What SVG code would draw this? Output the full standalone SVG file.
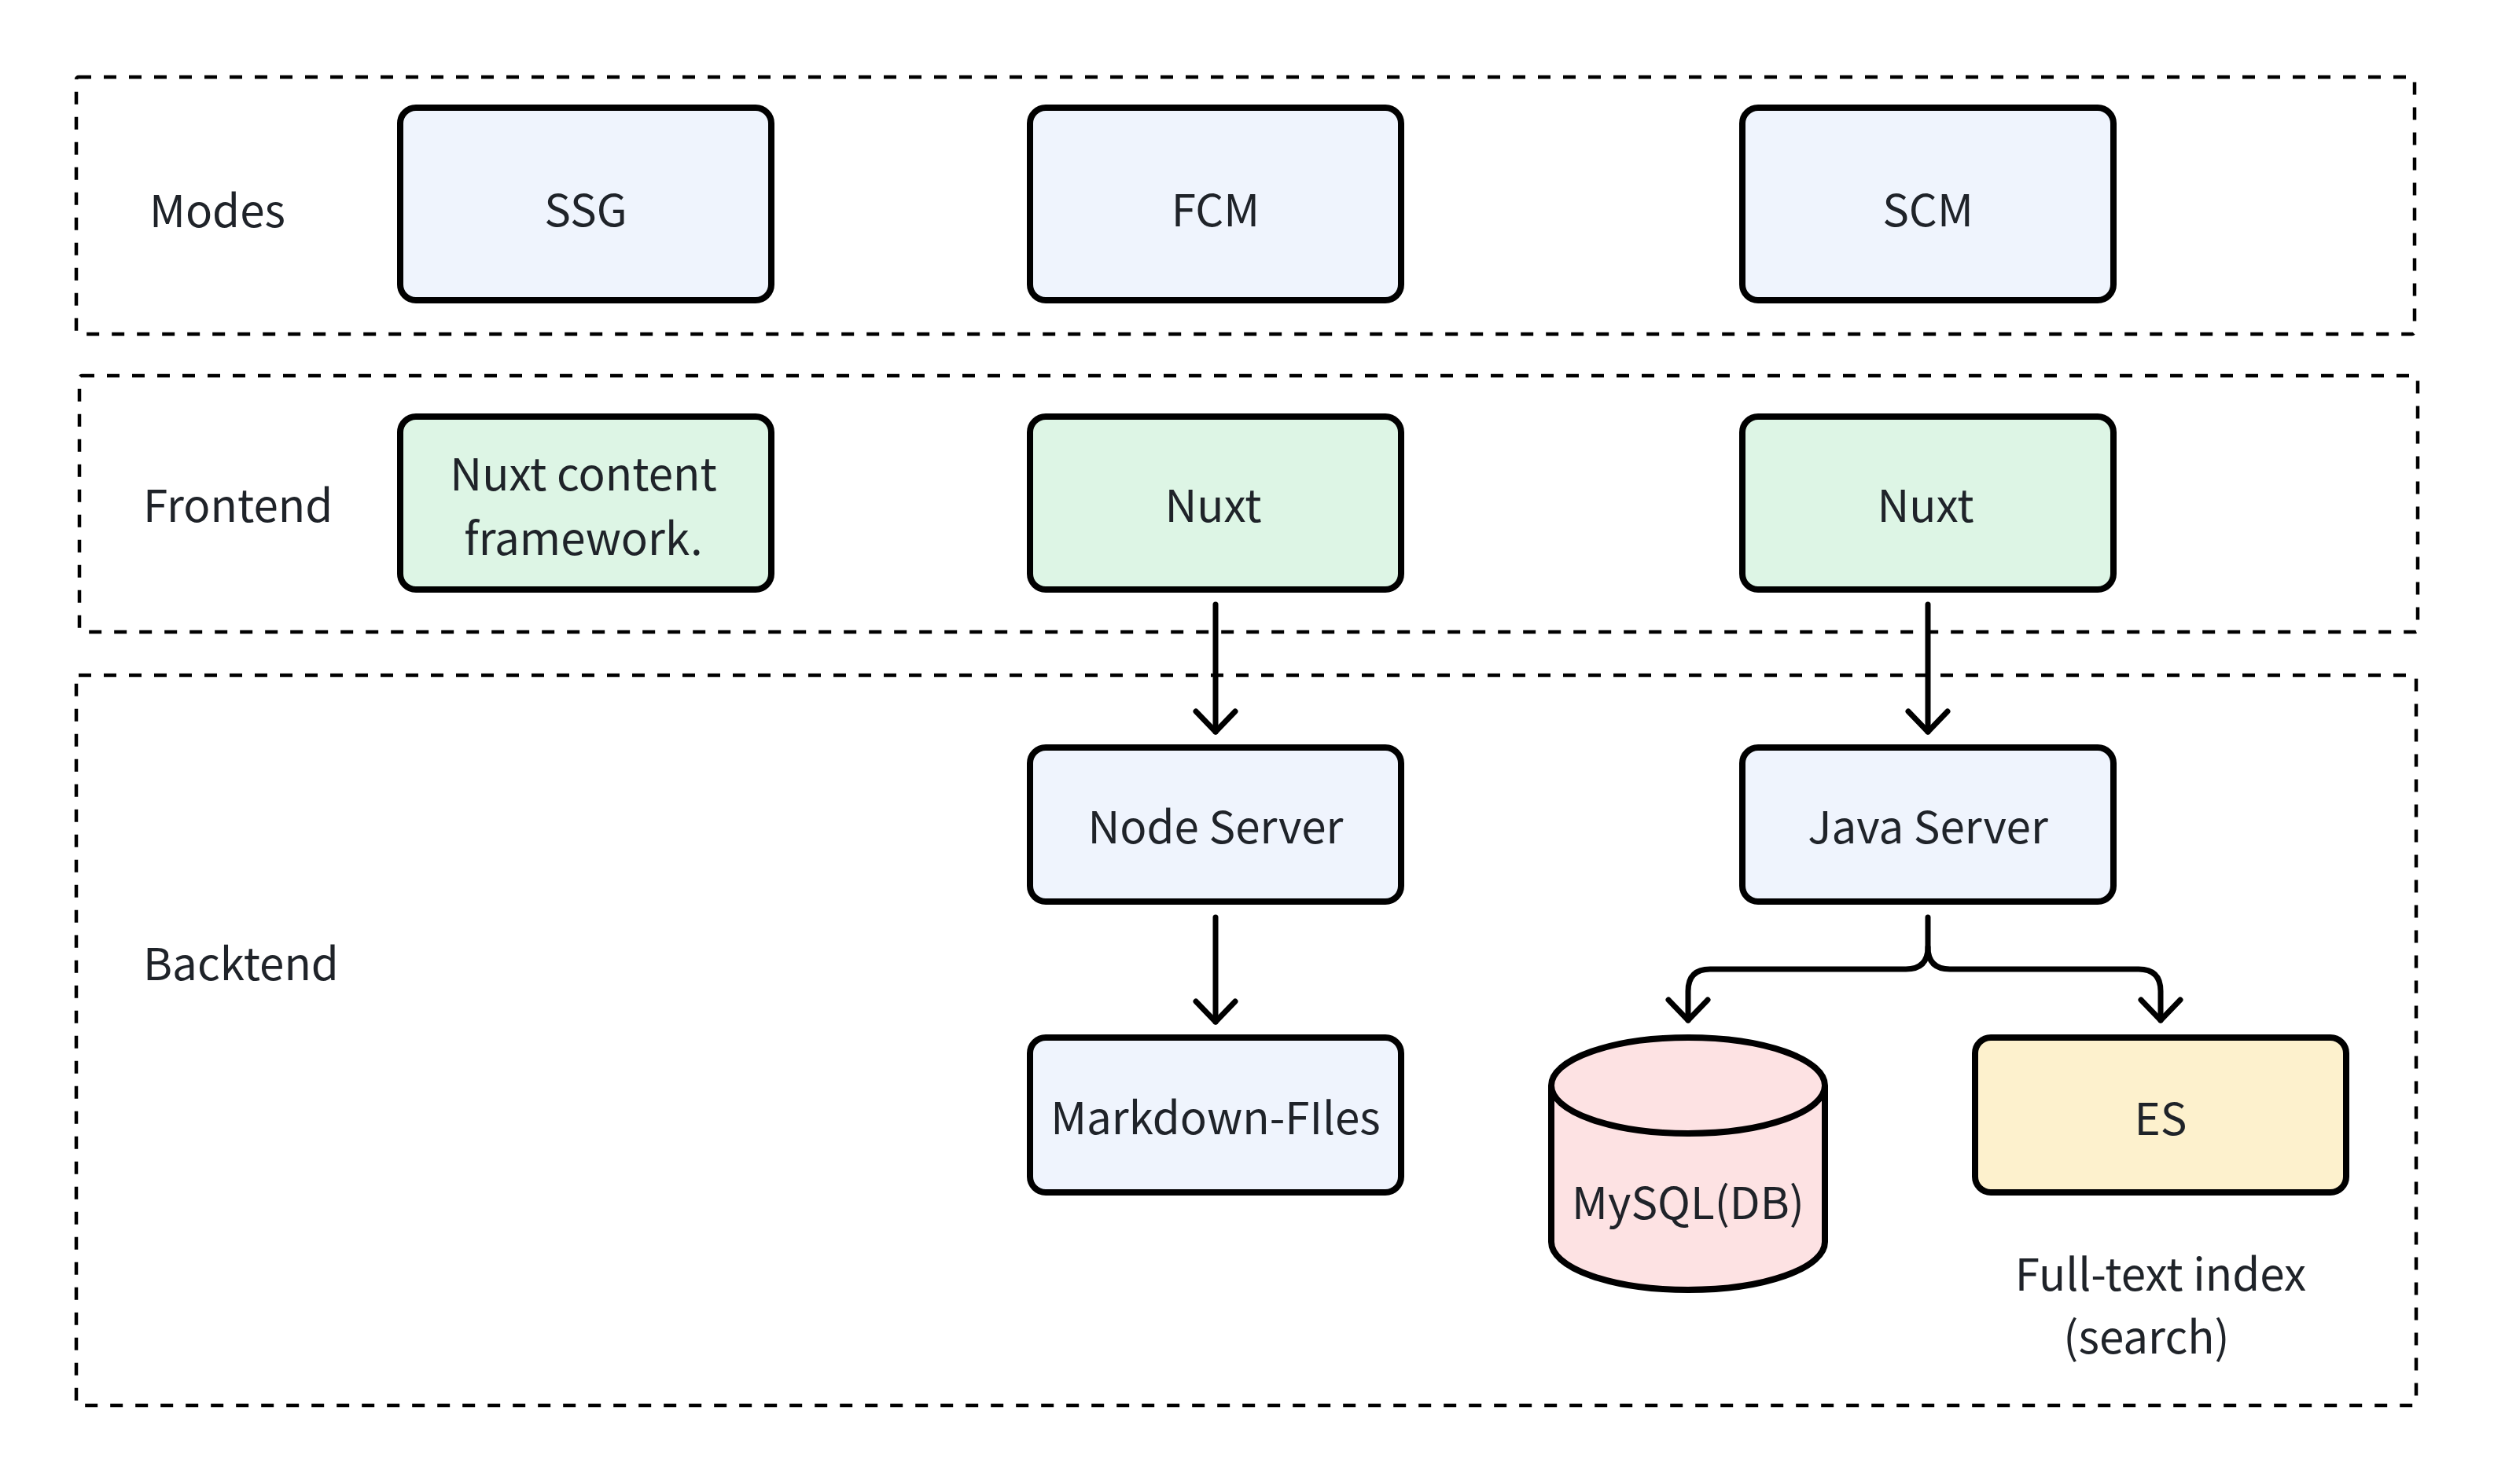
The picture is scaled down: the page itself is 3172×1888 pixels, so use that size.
<svg xmlns="http://www.w3.org/2000/svg" width="3172" height="1888" viewBox="0 0 3172 1888">
<defs>
<style>
.grp{fill:none;stroke:#000;stroke-width:4.5;stroke-dasharray:16 16}
.box{stroke:#000;stroke-width:8}
.blue{fill:#eff4fd}
.green{fill:#ddf5e5}
.yellow{fill:#fdf1cd}
.pink{fill:#fde2e3}
text{font-family:"Noto Sans CJK SC","Noto Sans",sans-serif;font-size:56.5px;fill:#1f2329}
.c{text-anchor:middle}
.edge{fill:none;stroke:#000;stroke-width:7;stroke-linecap:round;stroke-linejoin:round}
</style>
<marker id="arr" markerUnits="userSpaceOnUse" viewBox="-30 -30 60 60" markerWidth="60" markerHeight="60" refX="0" refY="0" orient="auto" overflow="visible">
<path d="M-26,-25 L0,0 L-26,25" fill="none" stroke="#000" stroke-width="7" stroke-linecap="round" stroke-linejoin="round"/>
</marker>
</defs>
<rect width="3172" height="1888" fill="#fff"/>
<g id="groups">
<rect id="grp-modes" class="grp" x="97" y="98" width="2974" height="327" rx="3"/>
<rect id="grp-frontend" class="grp" x="101" y="478" width="2974" height="326" rx="3"/>
<rect id="grp-backend" class="grp" x="97" y="859" width="2976" height="929" rx="3"/>
<text x="190" y="289">Modes</text>
<text x="182" y="664">Frontend</text>
<text x="182" y="1247">Backtend</text>
</g>
<g id="connectors">
<path class="edge" d="M1546,769 L1546,931" marker-end="url(#arr)"/>
<path class="edge" d="M2452,769 L2452,931" marker-end="url(#arr)"/>
<path class="edge" d="M1546,1167 L1546,1300" marker-end="url(#arr)"/>
<path class="edge" d="M2452,1167 L2452,1205 Q2452,1233 2424,1233 L2175,1233 Q2147,1233 2147,1261 L2147,1298" marker-end="url(#arr)"/>
<path class="edge" d="M2452,1205 Q2452,1233 2480,1233 L2720,1233 Q2748,1233 2748,1261 L2748,1298" marker-end="url(#arr)"/>
</g>
<g id="ssg"><rect class="box blue" x="509" y="137" width="472" height="245" rx="20"/><text class="c" x="745" y="288">SSG</text></g>
<g id="fcm"><rect class="box blue" x="1310" y="137" width="472" height="245" rx="20"/><text class="c" x="1546" y="288">FCM</text></g>
<g id="scm"><rect class="box blue" x="2216" y="137" width="472" height="245" rx="20"/><text class="c" x="2452" y="288">SCM</text></g>
<g id="nuxt-content"><rect class="box green" x="509" y="530" width="472" height="220" rx="20"/><text class="c" x="742" y="624">Nuxt content</text><text class="c" x="742" y="706">framework.</text></g>
<g id="nuxt-fcm"><rect class="box green" x="1310" y="530" width="472" height="220" rx="20"/><text class="c" x="1543" y="664">Nuxt</text></g>
<g id="nuxt-scm"><rect class="box green" x="2216" y="530" width="472" height="220" rx="20"/><text class="c" x="2449" y="664">Nuxt</text></g>
<g id="node-server"><rect class="box blue" x="1310" y="951" width="472" height="196" rx="20"/><text class="c" x="1546" y="1073">Node Server</text></g>
<g id="java-server"><rect class="box blue" x="2216" y="951" width="472" height="196" rx="20"/><text class="c" x="2452" y="1073">Java Server</text></g>
<g id="markdown-files"><rect class="box blue" x="1310" y="1320" width="472" height="197" rx="20"/><text class="c" x="1546" y="1443">Markdown-FIles</text></g>
<g id="mysql">
<path class="box pink" d="M1973,1381 A174,61 0 0 1 2321,1381 L2321,1580 A174,61 0 0 1 1973,1580 Z"/>
<path class="box" fill="none" d="M1973,1381 A174,61 0 0 0 2321,1381"/>
<text class="c" x="2147" y="1551">MySQL(DB)</text>
</g>
<g id="es"><rect class="box yellow" x="2512" y="1320" width="472" height="197" rx="20"/><text class="c" x="2748" y="1444">ES</text></g>
<g id="es-note"><text class="c" x="2748" y="1642">Full-text index</text><text class="c" x="2730" y="1722">(search)</text></g>
</svg>
